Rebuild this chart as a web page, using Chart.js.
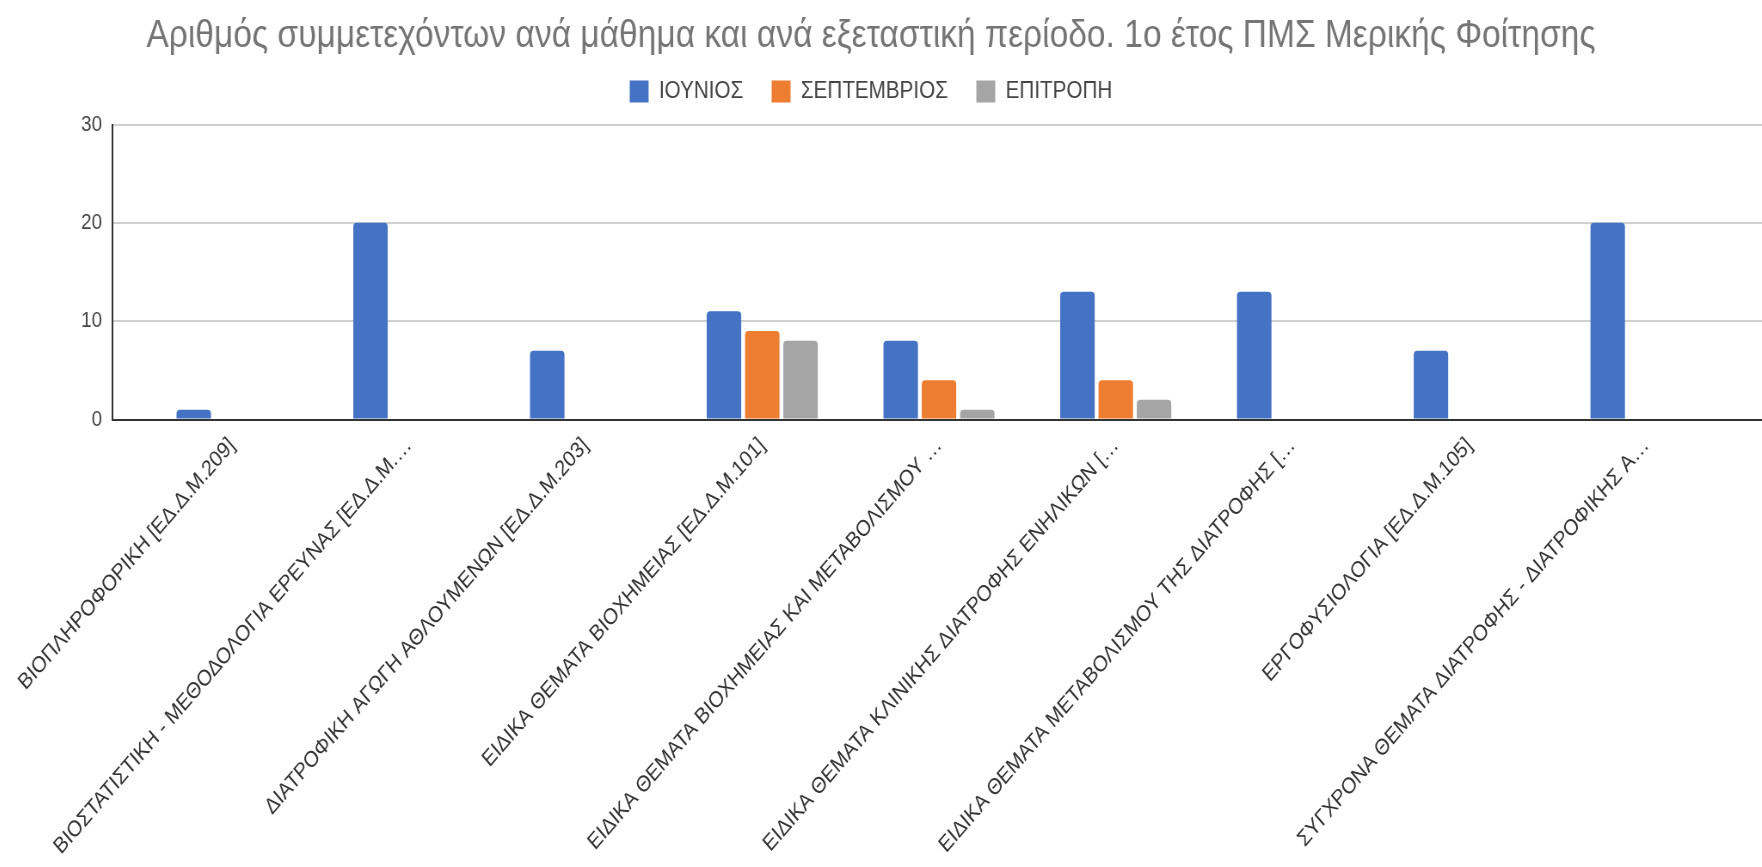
<!DOCTYPE html>
<html lang="el">
<head>
<meta charset="utf-8">
<title>Αριθμός συμμετεχόντων ανά μάθημα</title>
<script src="https://cdn.jsdelivr.net/npm/chart.js@4/dist/chart.umd.min.js"></script>
<style>
    html, body { margin: 0; padding: 0; background: #fff; width: 1762px; height: 867px; overflow: hidden; }
    /* Το πρωτότυπο είναι συμπιεσμένο οριζόντια (~0.86), οπότε σχεδιάζουμε πλατύτερα και κλιμακώνουμε */
    #wrap {
        position: absolute; left: -20px; top: 0;
        width: 2072px; height: 867px;
        transform: scaleX(0.86); transform-origin: 0 0;
    }
</style>
</head>
<body>
<div id="wrap"><canvas id="chart"></canvas></div>
<script>
// Μαθήματα (ετικέτες άξονα x, όπως εμφανίζονται περικομμένες)
const courses = [
    'ΒΙΟΠΛΗΡΟΦΟΡΙΚΗ [ΕΔ.Δ.Μ.209]',
    'ΒΙΟΣΤΑΤΙΣΤΙΚΗ - ΜΕΘΟΔΟΛΟΓΙΑ ΕΡΕΥΝΑΣ [ΕΔ.Δ.Μ.…',
    'ΔΙΑΤΡΟΦΙΚΗ ΑΓΩΓΗ ΑΘΛΟΥΜΕΝΩΝ [ΕΔ.Δ.Μ.203]',
    'ΕΙΔΙΚΑ ΘΕΜΑΤΑ ΒΙΟΧΗΜΕΙΑΣ [ΕΔ.Δ.Μ.101]',
    'ΕΙΔΙΚΑ ΘΕΜΑΤΑ ΒΙΟΧΗΜΕΙΑΣ ΚΑΙ ΜΕΤΑΒΟΛΙΣΜΟΥ …',
    'ΕΙΔΙΚΑ ΘΕΜΑΤΑ ΚΛΙΝΙΚΗΣ ΔΙΑΤΡΟΦΗΣ ΕΝΗΛΙΚΩΝ […',
    'ΕΙΔΙΚΑ ΘΕΜΑΤΑ ΜΕΤΑΒΟΛΙΣΜΟΥ ΤΗΣ ΔΙΑΤΡΟΦΗΣ […',
    'ΕΡΓΟΦΥΣΙΟΛΟΓΙΑ [ΕΔ.Δ.Μ.105]',
    'ΣΥΓΧΡΟΝΑ ΘΕΜΑΤΑ ΔΙΑΤΡΟΦΗΣ - ΔΙΑΤΡΟΦΙΚΗΣ Α…'
];

// Σειρές δεδομένων ανά εξεταστική περίοδο
const juneValues = [1, 20, 7, 11, 8, 13, 13, 7, 20];
const septemberValues = [0, 0, 0, 9, 4, 4, 0, 0, 0];
const committeeValues = [0, 0, 0, 8, 1, 2, 0, 0, 0];

// Τιμές άξονα y
const yTicks = [0, 10, 20, 30];

const FONT = "'Liberation Sans', Arial, sans-serif";

// Μετατροπή σειράς σε σημεία {x, y} (ο άξονας x είναι γραμμικός)
function toPoints(values) {
    return values.map((v, i) => ({ x: i, y: v }));
}

function makeDataset(label, values, color) {
    return {
        label: label,
        data: toPoints(values),
        backgroundColor: color,
        borderWidth: 0,
        borderRadius: { topLeft: 4, topRight: 4, bottomLeft: 0, bottomRight: 0 },
        borderSkipped: 'start',
        categoryPercentage: 0.65,
        barPercentage: 0.9
    };
}

const ctx = document.getElementById('chart');

new Chart(ctx, {
    type: 'bar',
    data: {
        datasets: [
            makeDataset('ΙΟΥΝΙΟΣ', juneValues, '#4472c4'),
            makeDataset('ΣΕΠΤΕΜΒΡΙΟΣ', septemberValues, '#ed7d31'),
            makeDataset('ΕΠΙΤΡΟΠΗ', committeeValues, '#a5a5a5')
        ]
    },
    options: {
        responsive: true,
        maintainAspectRatio: false,
        animation: false,
        layout: { padding: 0 },
        plugins: {
            title: {
                display: true,
                text: 'Αριθμός συμμετεχόντων ανά μάθημα και ανά εξεταστική περίοδο. 1ο έτος ΠΜΣ Μερικής Φοίτησης',
                color: '#757575',
                font: { family: FONT, size: 39, weight: 'normal', lineHeight: 0.4 },
                padding: { top: 28.2, bottom: 2.7 }
            },
            // κενό κάτω από το υπόμνημα
            subtitle: {
                display: true,
                text: '',
                weight: 500,
                font: { size: 1, lineHeight: 1 },
                padding: { top: 0, bottom: 10 }
            },
            legend: {
                position: 'top',
                labels: {
                    color: '#444',
                    font: { family: FONT, size: 24 },
                    boxWidth: 22,
                    boxHeight: 22,
                    padding: 33
                }
            },
            tooltip: { enabled: false }
        },
        scales: {
            x: {
                type: 'linear',
                min: -0.679,
                max: 8.656,
                offset: false,
                grid: { display: false, drawTicks: false },
                border: { display: true, color: '#333', width: 2 },
                afterFit: (scale) => { scale.height = 867 - 419.5; },
                ticks: {
                    stepSize: 1,
                    includeBounds: false,
                    autoSkip: false,
                    minRotation: 45,
                    maxRotation: 45,
                    padding: 13,
                    color: '#333',
                    font: { family: FONT, size: 22.5 },
                    callback: (value) => Number.isInteger(value) ? (courses[value] || '') : ''
                }
            },
            y: {
                min: yTicks[0],
                max: yTicks[yTicks.length - 1],
                afterBuildTicks: (scale) => { scale.ticks = yTicks.map(v => ({ value: v })); },
                afterFit: (scale) => { scale.width = 153.5; },
                grid: { color: '#d0d0d0', lineWidth: 2, drawTicks: false },
                border: { display: true, color: '#333', width: 2 },
                ticks: {
                    padding: 11.6,
                    color: '#444',
                    font: { family: FONT, size: 22 }
                }
            }
        }
    }
});
</script>
</body>
</html>
